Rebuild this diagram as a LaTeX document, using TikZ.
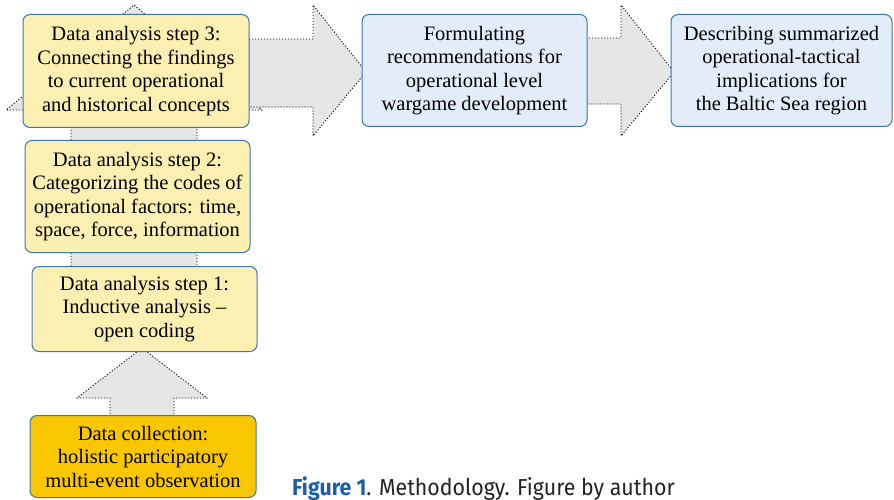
\documentclass[tikz,border=0pt]{standalone}
\usepackage{fontspec}
\setmainfont{Liberation Serif}
\newfontfamily\capfont{Fira Sans}
\definecolor{boxborder}{HTML}{3A76B2}
\definecolor{yellowfill}{HTML}{FCEFB2}
\definecolor{goldfill}{HTML}{F9C700}
\definecolor{bluefill}{HTML}{E3EDFA}
\definecolor{arrowfill}{HTML}{E6E6E6}
\definecolor{capblue}{HTML}{1C5EA8}
\definecolor{capgray}{HTML}{222222}
\tikzset{
  boxbase/.style={draw=boxborder, line width=1pt, rounded corners=7pt, inner sep=0pt, outer sep=0pt,
    align=center, font=\fontsize{20.5}{23.5}\selectfont},
  ybox/.style={boxbase, fill=yellowfill},
  gbox/.style={boxbase, fill=goldfill},
  bbox/.style={boxbase, fill=bluefill},
  blockarrow/.style={fill=arrowfill, draw=black, line width=0.8pt, dash pattern=on 1.2pt off 1.8pt, line join=miter},
}
\newcommand{\boxat}[7]{% name, style, x1, y1, x2, y2, text
  \node[#2, minimum width={(#5-#3)*1pt}, minimum height={(#6-#4)*1pt}] (#1) at ({(#3+#5)/2},{(#4+#6)/2+1.5}) {#7};}
\begin{document}
\begin{tikzpicture}[x=1pt,y=-1pt]
\useasboundingbox (0,0) rectangle (894,500);
% block arrows
\draw[blockarrow] (110,420) -- (110,398) -- (77,398) -- (142,348) -- (207,398) -- (174,398) -- (174,420) ;
\draw[blockarrow] (71,275) -- (71,110) -- (6,110) -- (134,5) -- (262,110) -- (197,110) -- (197,275);
\draw[blockarrow] (240,39) -- (313,39) -- (313,5) -- (366,72) -- (313,136) -- (313,107) -- (240,107);
\draw[blockarrow] (580,38) -- (621,38) -- (621,5) -- (674,72) -- (621,136) -- (621,104) -- (580,104);
% boxes
\boxat{step3}{ybox}{23}{13}{249}{126}{Data analysis step 3:\\Connecting the findings\\to current operational\\and historical concepts}
\boxat{step2}{ybox}{25}{139}{250}{251}{Data analysis step 2:\\Categorizing the codes of\\operational factors: time,\\space, force, information}
\boxat{step1}{ybox}{32}{265}{257}{350}{Data analysis step 1:\\Inductive analysis --\\open coding}
\boxat{collect}{gbox}{30}{414}{256}{496}{Data collection:\\holistic participatory\\multi-event observation}
\boxat{formul}{bbox}{362}{13}{587}{125}{Formulating\\recommendations for\\operational level\\wargame development}
\boxat{descr}{bbox}{671}{13}{892}{125}{Describing summarized\\operational-tactical\\implications for\\the Baltic Sea region}
% caption
\node[anchor=base west, inner sep=0pt, font=\capfont\fontsize{22}{26}\selectfont] (caption) at (292,495)
  {\scalebox{0.97}[1.05]{\textcolor{capblue}{\textbf{Figure 1}}\textcolor{capgray}{. Methodology. Figure by author}}};
\end{tikzpicture}
\end{document}
